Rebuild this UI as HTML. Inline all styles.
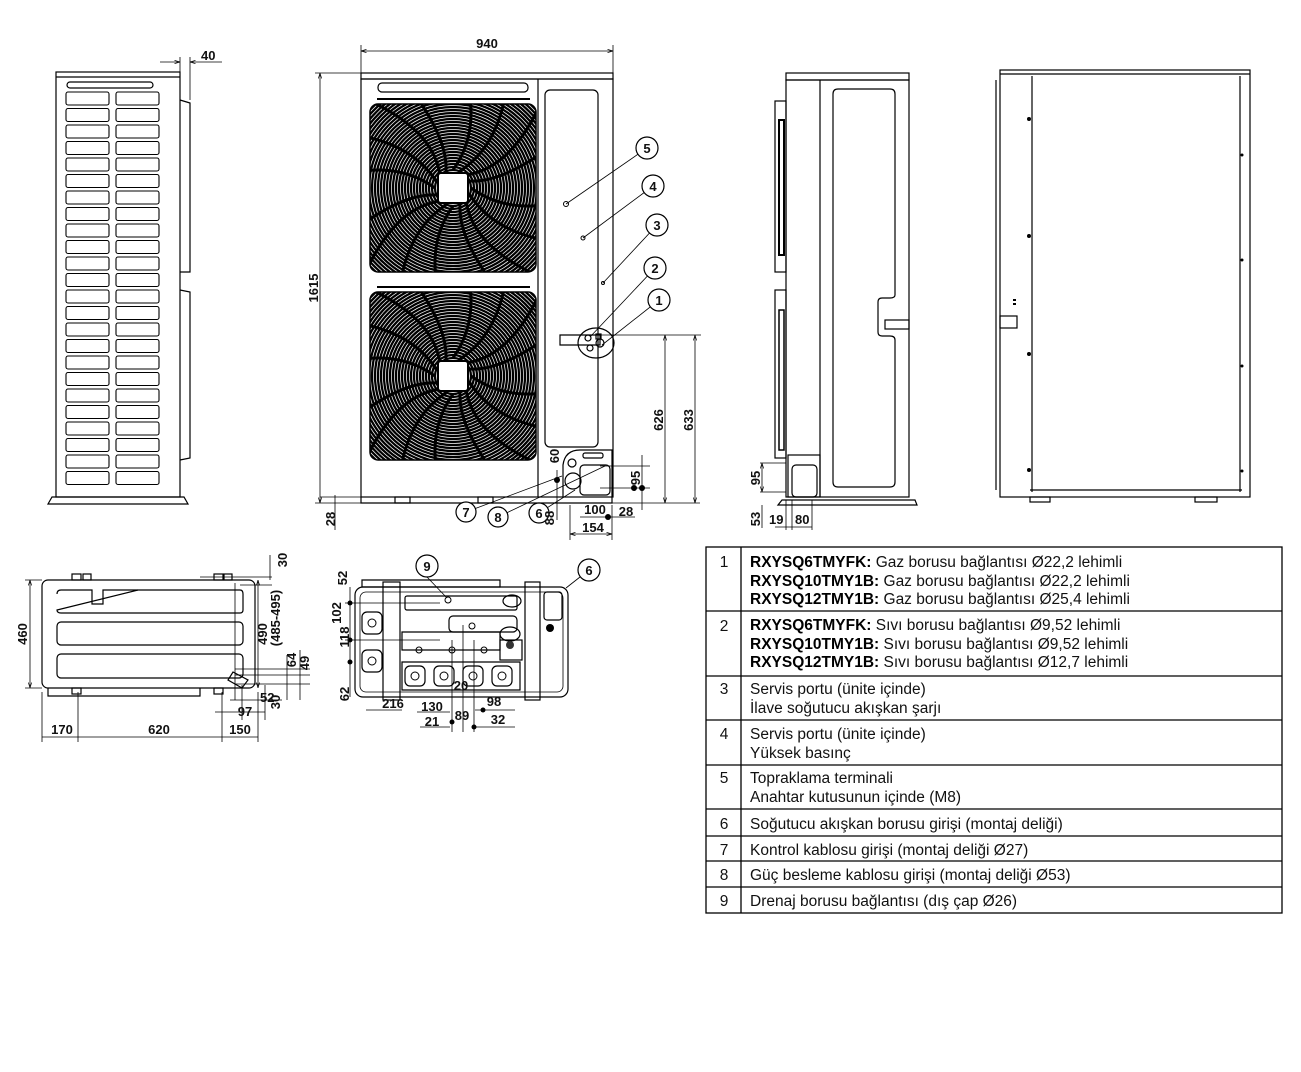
<!DOCTYPE html>
<html><head><meta charset="utf-8"><style>
html,body{margin:0;padding:0;background:#fff;}
svg{display:block;}
text{font-family:"Liberation Sans",sans-serif;}
.d{font-size:13px;font-weight:bold;fill:#111;}
.t{font-size:15.5px;fill:#111;}
.tb{font-size:15.5px;font-weight:bold;fill:#000;}
</style></head><body>
<svg width="1301" height="1072" viewBox="0 0 1301 1072" xmlns="http://www.w3.org/2000/svg">
<defs>
<marker id="a" viewBox="0 0 10 10" refX="10" refY="5" markerWidth="7" markerHeight="7" orient="auto-start-reverse"><path d="M0,2 L10,5 L0,8" fill="none" stroke="#000" stroke-width="1.2"/></marker>
<clipPath id="fc"><rect x="-83" y="-84" width="166" height="168" rx="8"/></clipPath>
<g id="fan">
<rect x="-83" y="-84" width="166" height="168" rx="8" fill="#fff" stroke="#000" stroke-width="1.5"/>
<g clip-path="url(#fc)" fill="none" stroke="#000" stroke-width="2.3">
<circle r="18"/><circle r="21"/><circle r="24"/><circle r="27"/><circle r="30"/><circle r="33"/><circle r="36"/><circle r="39"/><circle r="42"/><circle r="45"/><circle r="48"/><circle r="51"/><circle r="54"/><circle r="57"/><circle r="60"/><circle r="63"/><circle r="66"/><circle r="69"/><circle r="72"/><circle r="75"/><circle r="78"/><circle r="81"/><circle r="84"/><circle r="87"/><circle r="90"/><circle r="93"/><circle r="96"/><circle r="99"/><circle r="102"/><circle r="105"/><circle r="108"/><circle r="111"/><circle r="114"/><circle r="117"/>
<g stroke-width="3">
<path d="M0,-18 Q30,-60 10,-120"/><path d="M0,18 Q-30,60 -10,120"/><path d="M18,0 Q60,30 120,10"/><path d="M-18,0 Q-60,-30 -120,-10"/>
<path d="M13,-13 Q60,-20 90,-90"/><path d="M-13,13 Q-60,20 -90,90"/><path d="M13,13 Q20,60 90,90"/><path d="M-13,-13 Q-20,-60 -90,-90"/>
<path d="M7,-17 Q50,-45 55,-115"/><path d="M-7,17 Q-50,45 -55,115"/><path d="M17,7 Q45,50 115,55"/><path d="M-17,-7 Q-45,-50 -115,-55"/>
<path d="M17,-7 Q55,-5 115,-55"/><path d="M-17,7 Q-55,5 -115,55"/><path d="M7,17 Q5,55 55,115"/><path d="M-7,-17 Q-5,-55 -55,-115"/>
</g>
</g>
<rect x="-15" y="-15" width="30" height="30" rx="3" fill="#fff" stroke="#000" stroke-width="2"/>
</g>
</defs>

<g fill="none" stroke="#000" stroke-width="1.2">
<rect x="56" y="72" width="124" height="425"/>
<line x1="56" y1="77" x2="180" y2="77"/>
<rect x="67" y="82" width="86" height="6" rx="3"/>
<path d="M48,504 L52,497 L184,497 L188,504 Z"/>
<path d="M180,100 L190,103 L190,272 L180,272"/>
<path d="M180,290 L190,292 L190,458 L180,460"/>
<line x1="180" y1="57" x2="180" y2="72" stroke-width="0.8"/>
<line x1="190" y1="57" x2="190" y2="100" stroke-width="0.8"/>
<line x1="160" y1="62" x2="180" y2="62" stroke-width="0.8" marker-end="url(#a)"/>
<line x1="222" y1="62" x2="190" y2="62" stroke-width="0.8" marker-end="url(#a)"/>
</g>
<g fill="none" stroke="#000" stroke-width="1.1">
<rect x="66" y="92" width="43" height="13" rx="2"/><rect x="116" y="92" width="43" height="13" rx="2"/>
<rect x="66" y="108.5" width="43" height="13" rx="2"/><rect x="116" y="108.5" width="43" height="13" rx="2"/>
<rect x="66" y="125" width="43" height="13" rx="2"/><rect x="116" y="125" width="43" height="13" rx="2"/>
<rect x="66" y="141.5" width="43" height="13" rx="2"/><rect x="116" y="141.5" width="43" height="13" rx="2"/>
<rect x="66" y="158" width="43" height="13" rx="2"/><rect x="116" y="158" width="43" height="13" rx="2"/>
<rect x="66" y="174.5" width="43" height="13" rx="2"/><rect x="116" y="174.5" width="43" height="13" rx="2"/>
<rect x="66" y="191" width="43" height="13" rx="2"/><rect x="116" y="191" width="43" height="13" rx="2"/>
<rect x="66" y="207.5" width="43" height="13" rx="2"/><rect x="116" y="207.5" width="43" height="13" rx="2"/>
<rect x="66" y="224" width="43" height="13" rx="2"/><rect x="116" y="224" width="43" height="13" rx="2"/>
<rect x="66" y="240.5" width="43" height="13" rx="2"/><rect x="116" y="240.5" width="43" height="13" rx="2"/>
<rect x="66" y="257" width="43" height="13" rx="2"/><rect x="116" y="257" width="43" height="13" rx="2"/>
<rect x="66" y="273.5" width="43" height="13" rx="2"/><rect x="116" y="273.5" width="43" height="13" rx="2"/>
<rect x="66" y="290" width="43" height="13" rx="2"/><rect x="116" y="290" width="43" height="13" rx="2"/>
<rect x="66" y="306.5" width="43" height="13" rx="2"/><rect x="116" y="306.5" width="43" height="13" rx="2"/>
<rect x="66" y="323" width="43" height="13" rx="2"/><rect x="116" y="323" width="43" height="13" rx="2"/>
<rect x="66" y="339.5" width="43" height="13" rx="2"/><rect x="116" y="339.5" width="43" height="13" rx="2"/>
<rect x="66" y="356" width="43" height="13" rx="2"/><rect x="116" y="356" width="43" height="13" rx="2"/>
<rect x="66" y="372.5" width="43" height="13" rx="2"/><rect x="116" y="372.5" width="43" height="13" rx="2"/>
<rect x="66" y="389" width="43" height="13" rx="2"/><rect x="116" y="389" width="43" height="13" rx="2"/>
<rect x="66" y="405.5" width="43" height="13" rx="2"/><rect x="116" y="405.5" width="43" height="13" rx="2"/>
<rect x="66" y="422" width="43" height="13" rx="2"/><rect x="116" y="422" width="43" height="13" rx="2"/>
<rect x="66" y="438.5" width="43" height="13" rx="2"/><rect x="116" y="438.5" width="43" height="13" rx="2"/>
<rect x="66" y="455" width="43" height="13" rx="2"/><rect x="116" y="455" width="43" height="13" rx="2"/>
<rect x="66" y="471.5" width="43" height="13" rx="2"/><rect x="116" y="471.5" width="43" height="13" rx="2"/>
</g>
<text class="d" x="201" y="60">40</text>

<!-- FRONT VIEW -->
<g fill="none" stroke="#000" stroke-width="1.2">
<rect x="361" y="73" width="252" height="6"/>
<rect x="361" y="79" width="252" height="418"/>
<line x1="538" y1="79" x2="538" y2="497"/>
<rect x="378" y="83" width="150" height="9" rx="4"/>
<rect x="545" y="90" width="53" height="357" rx="5"/>
<line x1="377" y1="99" x2="530" y2="99" stroke-width="2"/>
<line x1="377" y1="287" x2="530" y2="287" stroke-width="2"/>
<path d="M361,497 L361,503 L612,503 L612,497" />
<rect x="395" y="497" width="15" height="6"/><rect x="478" y="497" width="15" height="6"/>
<path d="M560,335 L600,335 L600,345 L560,345 Z"/>
<ellipse cx="596" cy="343" rx="18" ry="15"/>
<circle cx="588" cy="338" r="3"/><circle cx="600" cy="343" r="4"/><circle cx="590" cy="348" r="3"/><rect x="596" y="334" width="5" height="5"/>
<path d="M563,497 L563,465 Q565,450 580,450 L612,450 L612,497"/>
<circle cx="572" cy="463" r="4"/><circle cx="573" cy="481" r="8"/>
<rect x="580" y="465" width="30" height="30" rx="4"/>
<rect x="583" y="453" width="20" height="5" rx="2"/>
</g>
<use href="#fan" x="453" y="188"/>
<use href="#fan" x="453" y="376"/>
<g fill="none" stroke="#000" stroke-width="0.8">
<line x1="361" y1="45" x2="361" y2="73"/><line x1="613" y1="45" x2="613" y2="73"/>
<line x1="361" y1="51" x2="613" y2="51" marker-start="url(#a)" marker-end="url(#a)"/>
<line x1="315" y1="73" x2="361" y2="73"/><line x1="315" y1="503" x2="361" y2="503"/>
<line x1="320" y1="73" x2="320" y2="503" marker-start="url(#a)" marker-end="url(#a)"/>
<line x1="335" y1="495" x2="335" y2="530"/>
<line x1="320" y1="497" x2="361" y2="497"/>
<line x1="600" y1="335" x2="701" y2="335"/>
<line x1="665" y1="335" x2="665" y2="503" marker-start="url(#a)" marker-end="url(#a)"/>
<line x1="695" y1="335" x2="695" y2="503" marker-start="url(#a)" marker-end="url(#a)"/>
<line x1="612" y1="503" x2="700" y2="503"/>
<line x1="600" y1="466" x2="650" y2="466"/>
<line x1="600" y1="488" x2="650" y2="488"/>
<line x1="642" y1="455" x2="642" y2="510"/>
<line x1="557" y1="470" x2="557" y2="520"/>
<line x1="570" y1="505" x2="570" y2="540"/><line x1="612" y1="505" x2="612" y2="540"/>
<line x1="570" y1="534" x2="612" y2="534" marker-start="url(#a)" marker-end="url(#a)"/>
<line x1="580" y1="517" x2="635" y2="517"/>
<line x1="647" y1="148" x2="566" y2="204"/><line x1="653" y1="186" x2="583" y2="238"/>
<line x1="657" y1="225" x2="603" y2="283"/><line x1="655" y1="268" x2="590" y2="337"/>
<line x1="659" y1="300" x2="602" y2="345"/>
<line x1="466" y1="512" x2="562" y2="476"/><line x1="498" y1="517" x2="605" y2="466"/>
<line x1="539" y1="513" x2="575" y2="490"/>
</g>
<circle cx="566" cy="204" r="2.5" fill="none" stroke="#000"/><circle cx="583" cy="238" r="2" fill="none" stroke="#000"/><circle cx="603" cy="283" r="1.5" fill="none" stroke="#000"/>
<g fill="#000"><circle cx="557" cy="480" r="3"/><circle cx="634" cy="488" r="3"/><circle cx="642" cy="488" r="3"/><circle cx="608" cy="517" r="3"/></g>
<g fill="#fff" stroke="#000" stroke-width="1.2">
<circle cx="647" cy="148" r="11"/><circle cx="653" cy="186" r="11"/><circle cx="657" cy="225" r="11"/><circle cx="655" cy="268" r="11"/><circle cx="659" cy="300" r="11"/>
<circle cx="466" cy="512" r="10"/><circle cx="498" cy="517" r="10"/><circle cx="539" cy="513" r="10"/>
<circle cx="427" cy="566" r="11"/><circle cx="589" cy="570" r="11"/>
</g>
<g class="d" text-anchor="middle" font-size="12">
<text x="647" y="153">5</text><text x="653" y="191">4</text><text x="657" y="230">3</text><text x="655" y="273">2</text><text x="659" y="305">1</text>
<text x="466" y="517">7</text><text x="498" y="522">8</text><text x="539" y="518">6</text>
<text x="427" y="571">9</text><text x="589" y="575">6</text>
</g>
<text class="d" x="487" y="48" text-anchor="middle">940</text>
<text class="d" transform="translate(318,288) rotate(-90)" text-anchor="middle">1615</text>
<text class="d" transform="translate(335,519) rotate(-90)" text-anchor="middle">28</text>
<text class="d" transform="translate(663,420) rotate(-90)" text-anchor="middle">626</text>
<text class="d" transform="translate(693,420) rotate(-90)" text-anchor="middle">633</text>
<text class="d" transform="translate(559,456) rotate(-90)" text-anchor="middle" font-size="11">60</text>
<text class="d" transform="translate(640,478) rotate(-90)" text-anchor="middle" font-size="12">95</text>
<text class="d" transform="translate(554,518) rotate(-90)" text-anchor="middle" font-size="11">88</text>
<text class="d" x="595" y="514" text-anchor="middle" font-size="12">100</text>
<text class="d" x="626" y="516" text-anchor="middle" font-size="11">28</text>
<text class="d" x="593" y="532" text-anchor="middle" font-size="12">154</text>

<!-- SIDE VIEW -->
<g fill="none" stroke="#000" stroke-width="1.2">
<rect x="786" y="73" width="123" height="7"/>
<rect x="786" y="80" width="123" height="417"/>
<line x1="820" y1="80" x2="820" y2="497"/>
<path d="M838,89 L890,89 Q895,89 895,94 L895,295 Q895,298 890,298 L882,298 Q878,298 878,302 L878,332 Q878,336 882,336 L890,336 Q895,336 895,340 L895,482 Q895,487 890,487 L838,487 Q833,487 833,482 L833,94 Q833,89 838,89 Z"/>
<rect x="885" y="320" width="24" height="9"/>
<rect x="775" y="101" width="11" height="171"/>
<rect x="775" y="290" width="11" height="168"/>
<path d="M779,120 L784,120 L784,255 L779,255 Z" stroke-width="2"/>
<path d="M779,310 L784,310 L784,450 L779,450 Z" stroke-width="1.5"/>
<rect x="788" y="455" width="32" height="42"/>
<rect x="792" y="465" width="25" height="32" rx="4"/>
<path d="M778,505 L782,500 L915,500 L917,505 Z"/>
</g>
<g fill="none" stroke="#000" stroke-width="0.8">
<line x1="760" y1="463" x2="786" y2="463"/><line x1="760" y1="492" x2="786" y2="492"/>
<line x1="762" y1="463" x2="762" y2="492" marker-start="url(#a)" marker-end="url(#a)"/>
<line x1="762" y1="505" x2="762" y2="528"/>
<line x1="786" y1="500" x2="786" y2="530"/><line x1="792" y1="500" x2="792" y2="530"/><line x1="812" y1="500" x2="812" y2="530"/>
<line x1="775" y1="527" x2="812" y2="527"/>
</g>
<text class="d" transform="translate(760,478) rotate(-90)" text-anchor="middle" font-size="12">95</text>
<text class="d" transform="translate(760,519) rotate(-90)" text-anchor="middle" font-size="12">53</text>
<text class="d" x="769" y="524" font-size="12">19</text>
<text class="d" x="795" y="524" font-size="12">80</text>

<!-- RIGHT VIEW -->
<g fill="none" stroke="#000" stroke-width="1.2">
<rect x="1000" y="70" width="250" height="427"/>
<line x1="1000" y1="74" x2="1250" y2="74"/>
<line x1="1032" y1="76" x2="1032" y2="492"/>
<line x1="1240" y1="76" x2="1240" y2="492"/>
<line x1="1030" y1="490" x2="1242" y2="490"/>
<rect x="1000" y="316" width="17" height="12"/>
<line x1="996" y1="80" x2="996" y2="490"/>
<rect x="1030" y="497" width="20" height="5"/><rect x="1195" y="497" width="22" height="5"/>
</g>
<g fill="#000"><circle cx="1029" cy="119" r="2"/><circle cx="1029" cy="236" r="2"/><circle cx="1029" cy="354" r="2"/><circle cx="1029" cy="470" r="2"/><circle cx="1242" cy="155" r="1.5"/><circle cx="1242" cy="260" r="1.5"/><circle cx="1242" cy="366" r="1.5"/><circle cx="1242" cy="471" r="1.5"/>
<rect x="1013" y="299" width="3" height="2"/><rect x="1013" y="303" width="3" height="2"/></g>

<!-- BOTTOM LEFT VIEW -->
<g fill="none" stroke="#000" stroke-width="1.2">
<rect x="42" y="580" width="213" height="108" rx="6"/>
<path d="M57,594 Q57,590 61,590 L88,590 M138,590 L240,590 Q243,590 243,594 L243,610 Q243,613 240,613 L61,613 Q57,613 57,610 Z"/>
<path d="M88,590 L92,590 L92,604 L103,604 L103,590 L138,590" />
<rect x="57" y="622" width="186" height="23" rx="4"/>
<rect x="57" y="654" width="186" height="24" rx="4"/>
<path d="M48,688 L48,696 L200,696 L200,688"/>
<rect x="72" y="574" width="9" height="6"/><rect x="83" y="574" width="8" height="6"/>
<rect x="214" y="574" width="9" height="6"/><rect x="224" y="574" width="8" height="6"/>
<rect x="72" y="688" width="9" height="6"/><rect x="214" y="688" width="9" height="6"/>
<path d="M233,672 L248,680 L242,688 L228,680 Z"/>
</g>
<g fill="none" stroke="#000" stroke-width="0.8">
<line x1="25" y1="580" x2="42" y2="580"/><line x1="25" y1="688" x2="42" y2="688"/>
<line x1="30" y1="580" x2="30" y2="688" marker-start="url(#a)" marker-end="url(#a)"/>
<line x1="42" y1="692" x2="42" y2="742"/><line x1="78" y1="692" x2="78" y2="742"/><line x1="222" y1="692" x2="222" y2="742"/><line x1="258" y1="692" x2="258" y2="742"/>
<line x1="42" y1="737" x2="258" y2="737"/>
<line x1="200" y1="577" x2="272" y2="577"/><line x1="240" y1="585" x2="272" y2="585"/>
<line x1="270" y1="555" x2="270" y2="580"/>
<line x1="235" y1="583" x2="235" y2="700" />
<line x1="258" y1="580" x2="258" y2="688" marker-start="url(#a)" marker-end="url(#a)"/>
<line x1="235" y1="669" x2="310" y2="669"/><line x1="235" y1="675" x2="310" y2="675"/><line x1="235" y1="684" x2="310" y2="684"/>
<line x1="300" y1="650" x2="300" y2="700"/><line x1="287" y1="655" x2="287" y2="700"/>
<line x1="230" y1="700" x2="282" y2="700"/>
<line x1="215" y1="712" x2="265" y2="712"/>
<line x1="242" y1="685" x2="242" y2="720"/><line x1="265" y1="685" x2="265" y2="720"/>
</g>
<text class="d" transform="translate(27,634) rotate(-90)" text-anchor="middle">460</text>
<text class="d" x="62" y="734" text-anchor="middle">170</text>
<text class="d" x="159" y="734" text-anchor="middle">620</text>
<text class="d" x="240" y="734" text-anchor="middle">150</text>
<text class="d" transform="translate(287,560) rotate(-90)" text-anchor="middle" font-size="12">30</text>
<text class="d" transform="translate(267,634) rotate(-90)" text-anchor="middle" font-size="12">490</text>
<text class="d" transform="translate(280,618) rotate(-90)" text-anchor="middle" font-size="11">(485-495)</text>
<text class="d" transform="translate(296,660) rotate(-90)" text-anchor="middle" font-size="11">64</text>
<text class="d" transform="translate(309,663) rotate(-90)" text-anchor="middle" font-size="11">49</text>
<text class="d" x="260" y="702" font-size="11">52</text>
<text class="d" transform="translate(280,702) rotate(-90)" text-anchor="middle" font-size="11">30</text>
<text class="d" x="245" y="716" text-anchor="middle" font-size="11">97</text>

<!-- BOTTOM RIGHT VIEW -->
<g fill="none" stroke="#000" stroke-width="1.2">
<path d="M362,580 L500,580 L500,587 L362,587 Z"/>
<rect x="355" y="587" width="213" height="110" rx="8"/>
<rect x="360" y="592" width="203" height="100" rx="6" stroke-width="0.8"/>
<rect x="383" y="582" width="17" height="118"/>
<rect x="525" y="582" width="15" height="118"/>
<rect x="405" y="596" width="112" height="14" rx="2"/>
<rect x="449" y="616" width="68" height="16" rx="4"/>
<path d="M402,632 L500,632 L500,650 L402,650 Z"/>
<path d="M402,662 L520,662 L520,690 L402,690 Z"/>
<rect x="405" y="666" width="20" height="20" rx="5"/><rect x="434" y="666" width="20" height="20" rx="5"/><rect x="463" y="666" width="20" height="20" rx="5"/><rect x="492" y="666" width="20" height="20" rx="5"/>
<rect x="362" y="612" width="20" height="22" rx="5"/><rect x="362" y="650" width="20" height="22" rx="5"/>
<rect x="544" y="592" width="18" height="28" rx="3"/>
<ellipse cx="512" cy="601" rx="9" ry="6"/><ellipse cx="510" cy="634" rx="10" ry="7"/>
<rect x="500" y="640" width="22" height="20"/>
</g>
<g fill="none" stroke="#000" stroke-width="1"><circle cx="415" cy="676" r="4"/><circle cx="444" cy="676" r="4"/><circle cx="473" cy="676" r="4"/><circle cx="502" cy="676" r="4"/><circle cx="372" cy="623" r="4"/><circle cx="372" cy="661" r="4"/><circle cx="448" cy="600" r="3"/><circle cx="472" cy="626" r="3"/><circle cx="419" cy="650" r="3"/><circle cx="452" cy="650" r="3"/><circle cx="484" cy="650" r="3"/></g>
<circle cx="550" cy="628" r="4" fill="#000"/><circle cx="510" cy="645" r="4" fill="#333"/>
<g fill="none" stroke="#000" stroke-width="0.8">
<line x1="350" y1="587" x2="350" y2="697"/>
<line x1="345" y1="640" x2="440" y2="640"/><line x1="345" y1="603" x2="440" y2="603"/>
<line x1="366" y1="710" x2="402" y2="710"/><line x1="417" y1="712" x2="450" y2="712"/>
<line x1="420" y1="727" x2="450" y2="727"/><line x1="475" y1="710" x2="515" y2="710"/>
<line x1="475" y1="727" x2="515" y2="727"/>
<line x1="452" y1="640" x2="452" y2="732"/><line x1="463" y1="625" x2="463" y2="732"/><line x1="474" y1="640" x2="474" y2="732"/>
<line x1="427" y1="577" x2="447" y2="598"/><line x1="580" y1="577" x2="566" y2="588"/>
</g>
<g fill="#000"><circle cx="350" cy="603" r="2.5"/><circle cx="350" cy="640" r="2.5"/><circle cx="350" cy="662" r="2.5"/><circle cx="452" cy="722" r="2.5"/><circle cx="474" cy="727" r="2.5"/><circle cx="483" cy="710" r="2.5"/></g>
<text class="d" transform="translate(347,578) rotate(-90)" text-anchor="middle" font-size="11">52</text>
<text class="d" transform="translate(341,613) rotate(-90)" text-anchor="middle" font-size="11">102</text>
<text class="d" transform="translate(349,637) rotate(-90)" text-anchor="middle" font-size="11">118</text>
<text class="d" transform="translate(349,694) rotate(-90)" text-anchor="middle" font-size="11">62</text>
<text class="d" x="393" y="708" text-anchor="middle" font-size="12">216</text>
<text class="d" x="432" y="711" text-anchor="middle" font-size="12">130</text>
<text class="d" x="432" y="726" text-anchor="middle" font-size="12">21</text>
<text class="d" x="462" y="720" text-anchor="middle" font-size="11">89</text>
<text class="d" x="494" y="706" text-anchor="middle" font-size="12">98</text>
<text class="d" x="498" y="724" text-anchor="middle" font-size="12">32</text>
<text class="d" x="461" y="690" text-anchor="middle" font-size="11">20</text>

<!-- TABLE -->
<g stroke="#000" stroke-width="1.3" fill="none">
<rect x="706" y="547" width="576" height="366"/>
<line x1="741" y1="547" x2="741" y2="913"/>
<line x1="706" y1="611" x2="1282" y2="611"/>
<line x1="706" y1="676" x2="1282" y2="676"/>
<line x1="706" y1="720" x2="1282" y2="720"/>
<line x1="706" y1="765" x2="1282" y2="765"/>
<line x1="706" y1="809" x2="1282" y2="809"/>
<line x1="706" y1="836" x2="1282" y2="836"/>
<line x1="706" y1="861" x2="1282" y2="861"/>
<line x1="706" y1="887" x2="1282" y2="887"/>
</g>
<g class="t" text-anchor="middle">
<text x="724" y="567">1</text><text x="724" y="631">2</text><text x="724" y="694">3</text><text x="724" y="739">4</text><text x="724" y="783">5</text><text x="724" y="829">6</text><text x="724" y="855">7</text><text x="724" y="880">8</text><text x="724" y="906">9</text>
</g>
<g class="t">
<text x="750" y="567"><tspan class="tb">RXYSQ6TMYFK:</tspan> Gaz borusu bağlantısı Ø22,2 lehimli</text>
<text x="750" y="586"><tspan class="tb">RXYSQ10TMY1B:</tspan> Gaz borusu bağlantısı Ø22,2 lehimli</text>
<text x="750" y="604"><tspan class="tb">RXYSQ12TMY1B:</tspan> Gaz borusu bağlantısı Ø25,4 lehimli</text>
<text x="750" y="630"><tspan class="tb">RXYSQ6TMYFK:</tspan> Sıvı borusu bağlantısı Ø9,52 lehimli</text>
<text x="750" y="649"><tspan class="tb">RXYSQ10TMY1B:</tspan> Sıvı borusu bağlantısı Ø9,52 lehimli</text>
<text x="750" y="667"><tspan class="tb">RXYSQ12TMY1B:</tspan> Sıvı borusu bağlantısı Ø12,7 lehimli</text>
<text x="750" y="694">Servis portu (ünite içinde)</text>
<text x="750" y="713">İlave soğutucu akışkan şarjı</text>
<text x="750" y="739">Servis portu (ünite içinde)</text>
<text x="750" y="758">Yüksek basınç</text>
<text x="750" y="783">Topraklama terminali</text>
<text x="750" y="802">Anahtar kutusunun içinde (M8)</text>
<text x="750" y="829">Soğutucu akışkan borusu girişi (montaj deliği)</text>
<text x="750" y="855">Kontrol kablosu girişi (montaj deliği Ø27)</text>
<text x="750" y="880">Güç besleme kablosu girişi (montaj deliği Ø53)</text>
<text x="750" y="906">Drenaj borusu bağlantısı (dış çap Ø26)</text>
</g>
</svg>
</body></html>
